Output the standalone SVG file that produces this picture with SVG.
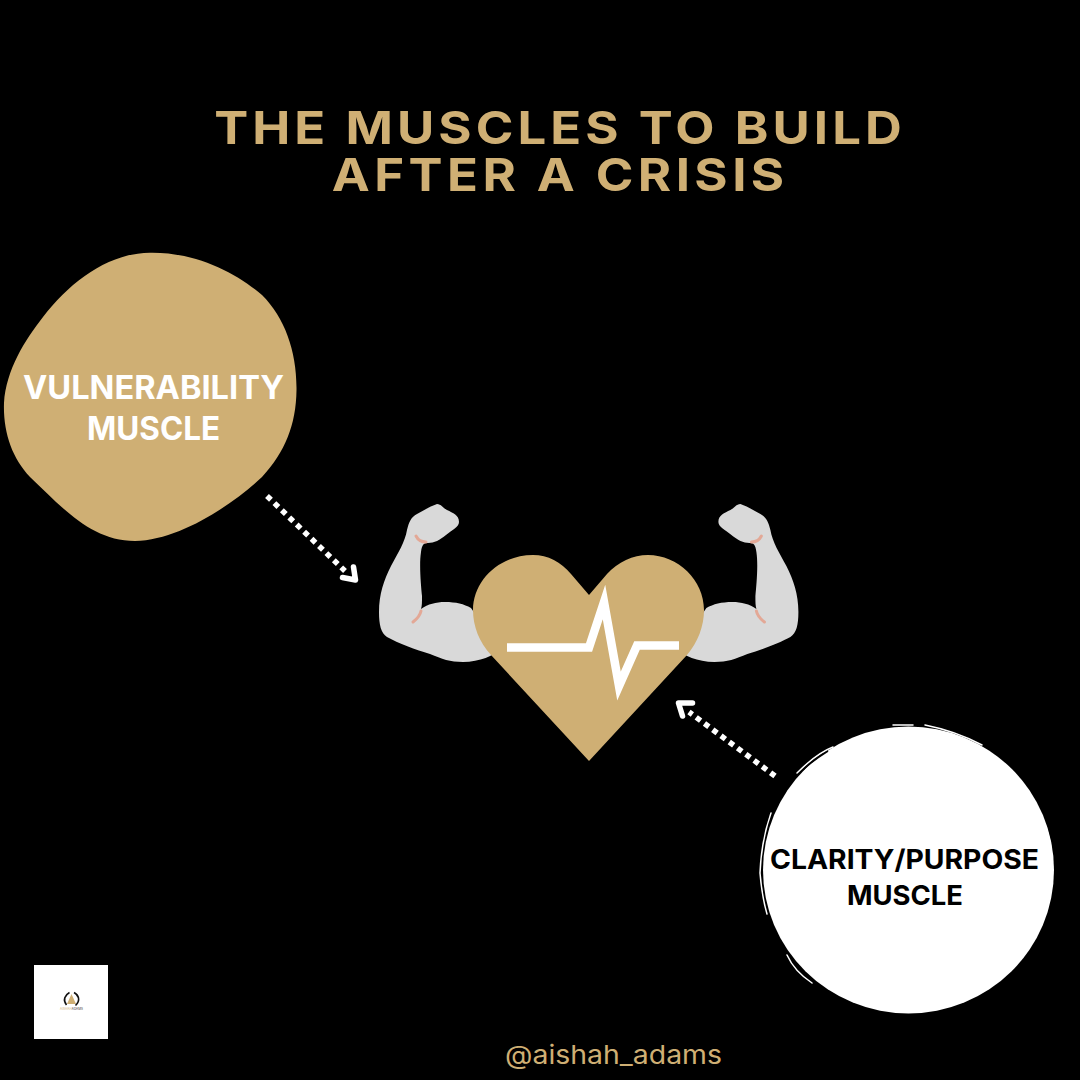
<svg xmlns="http://www.w3.org/2000/svg" width="1080" height="1080" viewBox="0 0 1080 1080">
<style>
.t{font-family:Inter,"Open Sans","Liberation Sans",sans-serif;font-weight:700}
.title{font-size:45.5px;fill:#cfaf74;font-weight:750}
.dots{fill:none;stroke:#fff;stroke-width:5.5;stroke-dasharray:5.5 4.8}
.head{fill:none;stroke:#fff;stroke-width:5.5;stroke-linejoin:round;stroke-linecap:round}
.scr{fill:none;stroke:#fff;stroke-width:1.5;stroke-linecap:round}
.crease{fill:none;stroke:#e3a896;stroke-width:3;stroke-linecap:round}
</style>
<defs>
<g id="arm">
<path fill="#d9d9d9" d="M437 504 C441 504 443 508 447 510 C453 513 459 515 459 522 C459 527 452 530 446 535 C440 540 434 543 428 543 C424 543 422 544 421 552 C419 565 421 585 422 596 C422 602 422 606 421 609 C428 604 436 602 445 602 C456 602 464 604 471 608 L500 650 C494 655 480 662 463 662 C450 662 442 659 430 654 C416 650 398 643 387 637 C381 633 379 625 379 612 C379 594 384 580 391 566 C398 553 405 542 407 530 C409 522 411 517 417 514 C424 510 431 506 437 504 Z"/>
<path class="crease" d="M416 536 C418 540 421 542 426 542"/>
<path class="crease" d="M421 611 C420 616 417 619 413 622"/>
</g>
</defs>
<rect width="1080" height="1080" fill="#000"/>
<g id="title">
<text class="t title" transform="translate(558 144) scale(1.12 1)" text-anchor="middle" textLength="614" lengthAdjust="spacing">THE MUSCLES TO BUILD</text>
<text class="t title" transform="translate(558 191) scale(1.12 1)" text-anchor="middle" textLength="404" lengthAdjust="spacing">AFTER A CRISIS</text>
</g>
<g id="vulnerability">
<path fill="#cfaf74" d="M150 252.7 C195 252 235 272 262 295 C285 318 297 352 296.5 390 C296 425 285 452 262 477 C232 505 180 540 135 541 C90 541 60 505 30 477 C12 458 3 432 4 403 C6 370 25 340 43 317 C70 282 108 253 150 252.7 Z"/>
<text class="t" x="153.5" y="399" text-anchor="middle" font-size="32" fill="#fff" textLength="261" lengthAdjust="spacingAndGlyphs">VULNERABILITY</text>
<text class="t" x="153.5" y="440" text-anchor="middle" font-size="32" fill="#fff" textLength="133" lengthAdjust="spacingAndGlyphs">MUSCLE</text>
</g>
<g id="muscle-heart">
<use href="#arm"/>
<use href="#arm" transform="translate(1177.4 0) scale(-1 1)"/>
<path fill="#cfaf74" d="M589 595 L571 574 C561 562 548 555 533 555 C500 555 473 580 473 610 C473 626 479 642 491 655 L589 761 L687 655 C698 642 704 626 704 610 C704 580 678 555 648 555 C633 555 618 562 607 574 Z"/>
<path fill="none" stroke="#fff" stroke-width="8.5" stroke-miterlimit="12" d="M507 647.5 L589 647.5 L604 602 L619 686 L637 645.5 L679 645.5"/>
</g>
<g id="clarity">
<ellipse cx="908.5" cy="870" rx="145.5" ry="143.5" fill="#fff"/>
<path class="scr" d="M893 725 L913 725 M925 725 C945 729 965 736 982 745 M797 773 C808 762 820 752 833 747 M771 813 C765 830 761 850 760 873 C761 885 763 900 767 914 M787 955 C792 966 800 975 812 983 M1043 820 C1047 830 1050 840 1051 848"/>
<path fill="none" stroke="#000" stroke-width="1.5" d="M803 770 C812 761 820 756 828 751"/>
<text class="t" x="904.5" y="869" text-anchor="middle" font-size="27" fill="#000" textLength="269" lengthAdjust="spacingAndGlyphs">CLARITY/PURPOSE</text>
<text class="t" x="905" y="905" text-anchor="middle" font-size="27" fill="#000" textLength="116" lengthAdjust="spacingAndGlyphs">MUSCLE</text>
</g>
<g id="connectors">
<path class="dots" d="M267 496 L345 571"/>
<path class="head" d="M342.5 577.5 L355.5 580 L353.5 567"/>
<path class="dots" d="M775 776 L689 712"/>
<path class="head" d="M692.5 703 L678.5 703 L682.5 716"/>
</g>
<g id="logo">
<rect x="34" y="965" width="74" height="74" fill="#fff"/>
<path fill="#cfaf74" d="M71.5 994 L76 1004 L67 1004 Z"/>
<path fill="none" stroke="#111" stroke-width="1.6" d="M69.5 992.5 C65 995 62.5 1000 66.5 1005 M74 992.5 C78.5 995 81 1000 75.5 1005.5"/>
<text x="71.5" y="1010" text-anchor="middle" font-size="3" font-family="Inter,'Liberation Sans',sans-serif" textLength="23"><tspan fill="#cfaf74">AISHAH</tspan><tspan fill="#333">ADAMS</tspan></text>
</g>
<g id="handle">
<text x="613.5" y="1064" text-anchor="middle" font-size="26" font-weight="400" font-family="Inter,'Open Sans','Liberation Sans',sans-serif" fill="#cfaf74" textLength="217" lengthAdjust="spacingAndGlyphs">@aishah_adams</text>
</g>
</svg>
